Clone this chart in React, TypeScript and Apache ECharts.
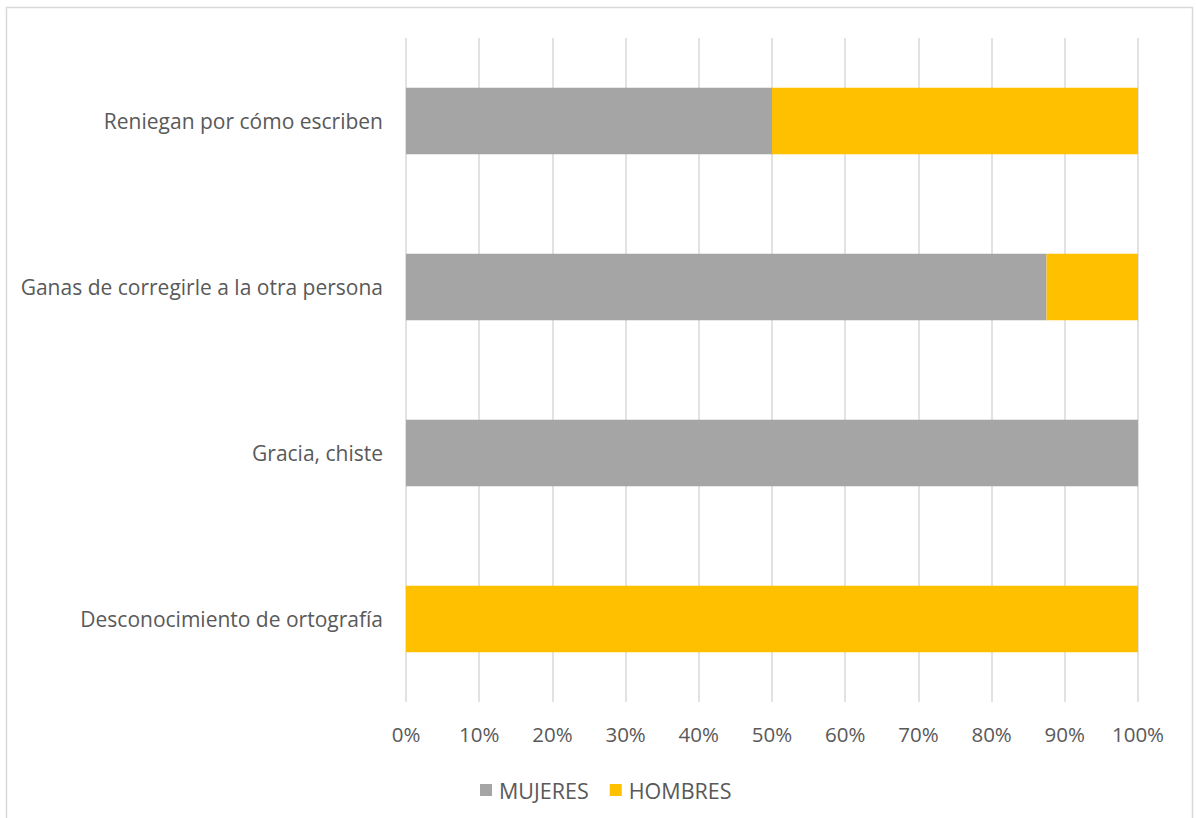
import React, { useEffect, useRef } from "react";
import * as echarts from "echarts";

const categories = [
  "Reniegan por cómo escriben",
  "Ganas de corregirle a la otra persona",
  "Gracia, chiste",
  "Desconocimiento de ortografía",
];
const mujeres = [0.5, 0.875, 1, 0];
const hombres = [0.5, 0.125, 0, 1];
const seriesNames = ["MUJERES", "HOMBRES"];
const colors = ["#a5a5a5", "#ffc000"];

const FONT = "'Open Sans', Lato, sans-serif";

export default function App() {
  const ref = useRef<HTMLDivElement>(null);
  useEffect(() => {
    if (!ref.current) return;
    const chart = echarts.init(ref.current, undefined, { renderer: "svg" });
    chart.setOption({
      animation: false,
      backgroundColor: "#ffffff",
      textStyle: { fontFamily: FONT },
      graphic: [
        {
          type: "rect",
          shape: { x: 6.5, y: 7.5, width: 1186, height: 830 },
          style: { fill: "none", stroke: "#d9d9d9", lineWidth: 1.5 },
          silent: true,
        },
      ],
      grid: { left: 406, right: 58, top: 38, bottom: 116, containLabel: false },
      legend: {
        data: seriesNames,
        top: 774,
        left: 475,
        itemWidth: 12,
        itemHeight: 12,
        itemGap: 21,
        icon: "rect",
        textStyle: {
          fontSize: 21.5,
          color: "#595959",
          fontFamily: FONT,
          padding: [0, 0, 0, 2],
        },
      },
      xAxis: {
        type: "value",
        min: 0,
        max: 1,
        interval: 0.1,
        axisLine: { show: false },
        axisTick: { show: false },
        splitLine: { show: true, lineStyle: { color: "#d9d9d9", width: 1.5 } },
        axisLabel: {
          margin: 21,
          fontSize: 20.5,
          color: "#595959",
          fontFamily: FONT,
          formatter: (v: number) => Math.round(v * 100) + "%",
        },
      },
      yAxis: {
        type: "category",
        inverse: true,
        data: categories,
        axisLine: { show: false },
        axisTick: { show: false },
        axisLabel: { margin: 23, fontSize: 21, color: "#595959", fontFamily: FONT },
      },
      series: [
        {
          name: seriesNames[0],
          type: "bar",
          stack: "total",
          data: mujeres,
          barCategoryGap: "60%",
          itemStyle: { color: colors[0] },
        },
        {
          name: seriesNames[1],
          type: "bar",
          stack: "total",
          data: hombres,
          barCategoryGap: "60%",
          itemStyle: { color: colors[1] },
        },
      ],
    });
    return () => chart.dispose();
  }, []);
  return (
    <div
      ref={ref}
      style={{ position: "fixed", left: 0, top: 0, width: 1196, height: 818 }}
    />
  );
}
